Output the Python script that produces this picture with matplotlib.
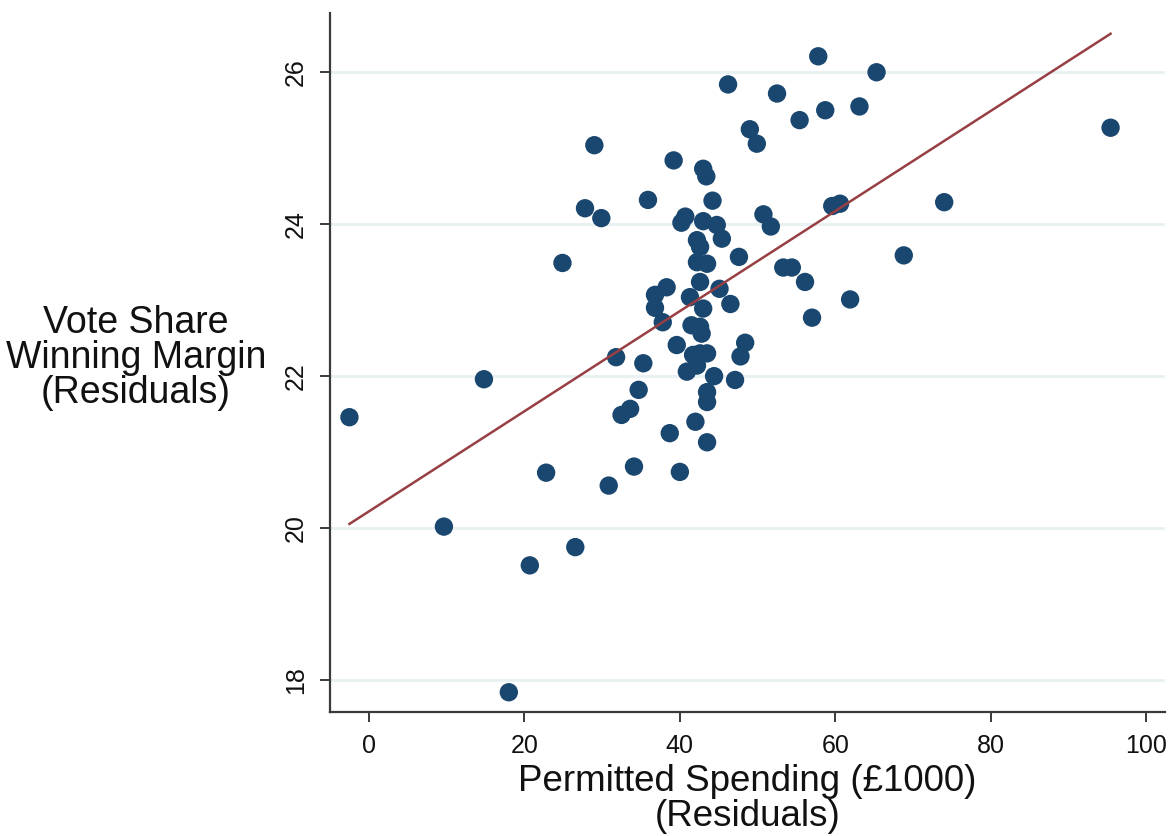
import matplotlib
matplotlib.use("Agg")
import matplotlib.pyplot as plt
import numpy as np

plt.rcParams['font.family'] = ['Liberation Sans', 'DejaVu Sans']

# Residualised permitted spending (£1000) and vote-share winning margin
spending = [-2.5, 9.65, 14.8, 18.0, 20.7, 22.8, 24.9, 26.55, 27.8, 29.0,
            29.9, 30.85, 31.8, 32.5, 33.6, 34.1, 34.7, 35.3, 35.9, 36.8,
            38.3, 36.8, 37.8, 38.7, 39.2, 39.6, 40.0, 40.7, 40.2, 40.9,
            41.5, 41.7, 42.0, 41.3, 42.2, 42.2, 42.6, 42.6, 42.8, 42.6,
            42.2, 43.0, 43.4, 43.0, 43.5, 43.0, 43.5, 43.5, 43.5, 43.5,
            44.2, 44.75, 45.4, 45.1, 44.4, 46.2, 46.5, 47.1, 47.6, 47.8,
            48.4, 49.0, 49.9, 50.75, 51.7, 52.5, 53.3, 54.4, 55.4, 56.1,
            57.0, 57.8, 58.7, 59.6, 60.6, 61.9, 63.1, 65.3, 68.8, 74.0,
            95.4, 42.6]
margin = [21.46, 20.02, 21.96, 17.84, 19.51, 20.73, 23.49, 19.75, 24.21, 25.04,
          24.08, 20.56, 22.25, 21.49, 21.57, 20.81, 21.82, 22.17, 24.32, 23.07,
          23.17, 22.90, 22.71, 21.25, 24.84, 22.41, 20.74, 24.10, 24.02, 22.06,
          22.67, 22.28, 21.40, 23.04, 23.50, 23.79, 23.70, 23.24, 22.56, 22.30,
          22.14, 24.73, 24.63, 24.04, 23.48, 22.89, 22.30, 21.79, 21.66, 21.13,
          24.31, 23.99, 23.81, 23.15, 22.00, 25.84, 22.95, 21.95, 23.57, 22.26,
          22.44, 25.25, 25.06, 24.13, 23.97, 25.72, 23.43, 23.43, 25.37, 23.24,
          22.77, 26.21, 25.50, 24.24, 24.27, 23.01, 25.55, 26.00, 23.59, 24.29,
          25.27, 22.65]

# Linear fit: margin = fit_intercept + fit_slope * spending
fit_intercept = 20.22
fit_slope = 0.0659

x_ticks = [0, 20, 40, 60, 80, 100]
y_ticks = [18, 20, 22, 24, 26]

navy = '#1a476f'
maroon = '#983f44'
axis_col = '#3a3a3a'

fig = plt.figure(figsize=(11.72, 8.36), dpi=100)
ax = fig.add_axes([330 / 1172, 1 - 712 / 836, (1165 - 330) / 1172, (712 - 13) / 836])

ax.set_xlim(-5, 102.4)
ax.set_ylim(17.58, 26.78)

for yt in y_ticks:
    ax.axhline(yt, color='#e9f1f2', lw=2.2, zorder=0)

ax.scatter(spending, margin, s=175, color=navy, edgecolors='none', zorder=3)

xs = np.array([min(spending), max(spending)])
ax.plot(xs, fit_intercept + fit_slope * xs, color=maroon, lw=1.8, zorder=4)

ax.set_xticks(x_ticks)
ax.set_yticks(y_ticks)
ax.set_xticklabels([str(v) for v in x_ticks], fontsize=18)
ax.set_yticklabels([str(v) for v in y_ticks], fontsize=18, rotation=90, va='center')

for side in ['top', 'right']:
    ax.spines[side].set_visible(False)
for side in ['left', 'bottom']:
    ax.spines[side].set_color(axis_col)
    ax.spines[side].set_linewidth(1.6)

ax.tick_params(axis='both', direction='out', length=7, width=1.4, color=axis_col,
               labelcolor='#111111')
ax.tick_params(axis='x', pad=9)
ax.tick_params(axis='y', pad=9)

ax.set_xlabel('Permitted Spending (£1000)\n(Residuals)', fontsize=26.5,
              linespacing=1.0, labelpad=4, color='#111111')

fig.text(136 / 1172, 1 - 358 / 836, 'Vote Share\nWinning Margin\n(Residuals)',
         ha='center', va='center', fontsize=27, linespacing=0.95, color='#111111')

fig.savefig('out.png', dpi=100)
